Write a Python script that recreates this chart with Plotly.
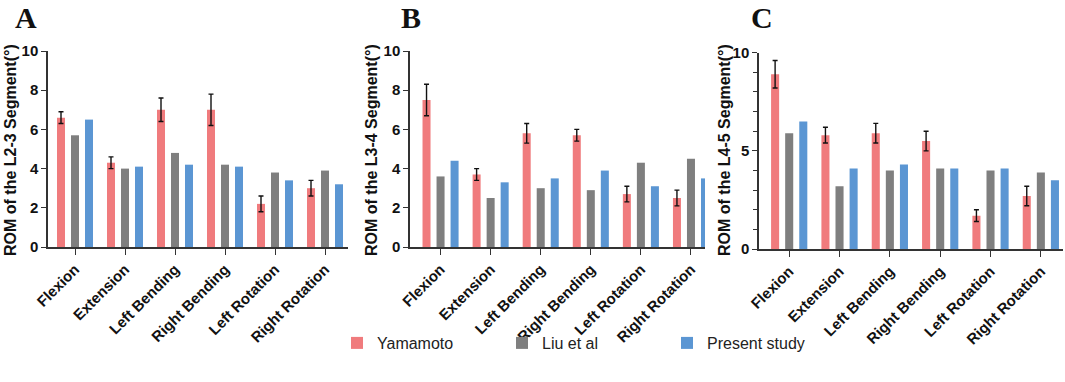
import plotly.graph_objects as go

categories = ["Flexion", "Extension", "Left Bending", "Right Bending", "Left Rotation", "Right Rotation"]
series_names = ["Yamamoto", "Liu et al", "Present study"]

# Panel A (L2-3)
a_yamamoto = [6.6, 4.3, 7.0, 7.0, 2.2, 3.0]
a_yamamoto_err = [0.3, 0.3, 0.6, 0.8, 0.4, 0.4]
a_liu = [5.7, 4.0, 4.8, 4.2, 3.8, 3.9]
a_present = [6.5, 4.1, 4.2, 4.1, 3.4, 3.2]

# Panel B (L3-4)
b_yamamoto = [7.5, 3.7, 5.8, 5.7, 2.7, 2.5]
b_yamamoto_err = [0.8, 0.3, 0.5, 0.3, 0.4, 0.4]
b_liu = [3.6, 2.5, 3.0, 2.9, 4.3, 4.5]
b_present = [4.4, 3.3, 3.5, 3.9, 3.1, 3.5]

# Panel C (L4-5)
c_yamamoto = [8.9, 5.8, 5.9, 5.5, 1.7, 2.7]
c_yamamoto_err = [0.7, 0.4, 0.5, 0.5, 0.3, 0.5]
c_liu = [5.9, 3.2, 4.0, 4.1, 4.0, 3.9]
c_present = [6.5, 4.1, 4.3, 4.1, 4.1, 3.5]

panel_titles = ["ROM of the L2-3 Segment(°)", "ROM of the L3-4 Segment(°)", "ROM of the L4-5 Segment(°)"]
panel_letters = ["A", "B", "C"]

colors = ["#F07B7D", "#7F7F7F", "#5B96D3"]
W, H = 1065, 382

panels = [
    dict(y=a_yamamoto, err=a_yamamoto_err, liu=a_liu, pres=a_present,
         xpx=(48, 348), ypx=(51, 247), xr=(-0.54, 5.46), dtick=2, minor=False, letter_x=26, title_x=10),
    dict(y=b_yamamoto, err=b_yamamoto_err, liu=b_liu, pres=b_present,
         xpx=(410, 705), ypx=(51, 247), xr=(-0.61, 5.28), dtick=2, minor=False, letter_x=411, title_x=371),
    dict(y=c_yamamoto, err=c_yamamoto_err, liu=c_liu, pres=c_present,
         xpx=(759, 1063), ypx=(52.7, 249), xr=(-0.6, 5.44), dtick=5, minor=True, letter_x=762, title_x=724),
]

fig = go.Figure()
font_axis = "Liberation Sans, Arial, sans-serif"
widths = 0.16
offsets = [-0.36, -0.08, 0.20]

for i, p in enumerate(panels):
    xa = "x" if i == 0 else f"x{i+1}"
    ya = "y" if i == 0 else f"y{i+1}"
    vals = [p["y"], p["liu"], p["pres"]]
    for k in range(3):
        kw = {}
        if k == 0:
            kw["error_y"] = dict(type="data", array=p["err"], visible=True,
                                 color="#111111", thickness=1.4, width=2.5)
        fig.add_trace(go.Bar(
            x=categories, y=vals[k], name=series_names[k],
            marker=dict(color=colors[k], line=dict(width=0)),
            width=widths, offset=offsets[k],
            xaxis=xa, yaxis=ya, showlegend=(i == 0), legendgroup=series_names[k],
            cliponaxis=True, **kw))

    xkey = "xaxis" if i == 0 else f"xaxis{i+1}"
    ykey = "yaxis" if i == 0 else f"yaxis{i+1}"
    x0, x1 = p["xpx"]
    yt, yb = p["ypx"]
    fig.layout[xkey] = dict(
        domain=[x0 / W, x1 / W], anchor=ya, type="category", automargin=False,
        range=list(p["xr"]), autorange=False, showline=True, linecolor="#333333", linewidth=1.5,
        ticks="outside", ticklen=6, tickwidth=1.3, tickcolor="#333333",
        tickangle=-45, showgrid=False, zeroline=False,
        tickfont=dict(family=font_axis, size=15, color="#111111", weight="bold"),
    )
    ydict = dict(
        domain=[(H - yb) / H, (H - yt) / H], anchor=xa, automargin=False,
        range=[0, 10], autorange=False, dtick=p["dtick"], tick0=0,
        showline=True, linecolor="#333333", linewidth=1.5,
        ticks="outside", ticklen=5, tickwidth=1.3, tickcolor="#333333",
        showgrid=False, zeroline=False,
        tickfont=dict(family=font_axis, size=15, color="#111111", weight="bold"),
    )
    if p["minor"]:
        ydict["minor"] = dict(dtick=1, ticks="outside", ticklen=4, tickcolor="#333333", showgrid=False)
    fig.layout[ykey] = ydict

    fig.add_annotation(x=p["letter_x"] / W, y=(H - 18) / H, xref="paper", yref="paper",
                       text="<b>" + panel_letters[i] + "</b>", showarrow=False,
                       font=dict(family="Liberation Serif, Times New Roman, serif", size=30, color="#111111"),
                       xanchor="center", yanchor="middle")
    fig.add_annotation(x=p["title_x"] / W, y=(H - 150) / H, xref="paper", yref="paper",
                       text="<b>" + panel_titles[i] + "</b>", showarrow=False, textangle=-90,
                       font=dict(family=font_axis, size=16, color="#111111"),
                       xanchor="center", yanchor="middle")

fig.update_layout(
    width=W, height=H, margin=dict(l=0, r=0, t=0, b=0, autoexpand=False),
    plot_bgcolor="white", paper_bgcolor="white",
    barmode="group",
    legend=dict(orientation="h", x=337 / W, y=(H - 343) / H, xanchor="left", yanchor="middle",
                entrywidth=120, entrywidthmode="pixels",
                font=dict(family="Liberation Sans Narrow, Liberation Sans, Arial", size=16, color="#222222"),
                bgcolor="rgba(0,0,0,0)"),
)

fig.write_html("out.html", config={"displayModeBar": False},
               post_script="document.body.style.margin='0px';document.body.style.overflow='hidden';")
